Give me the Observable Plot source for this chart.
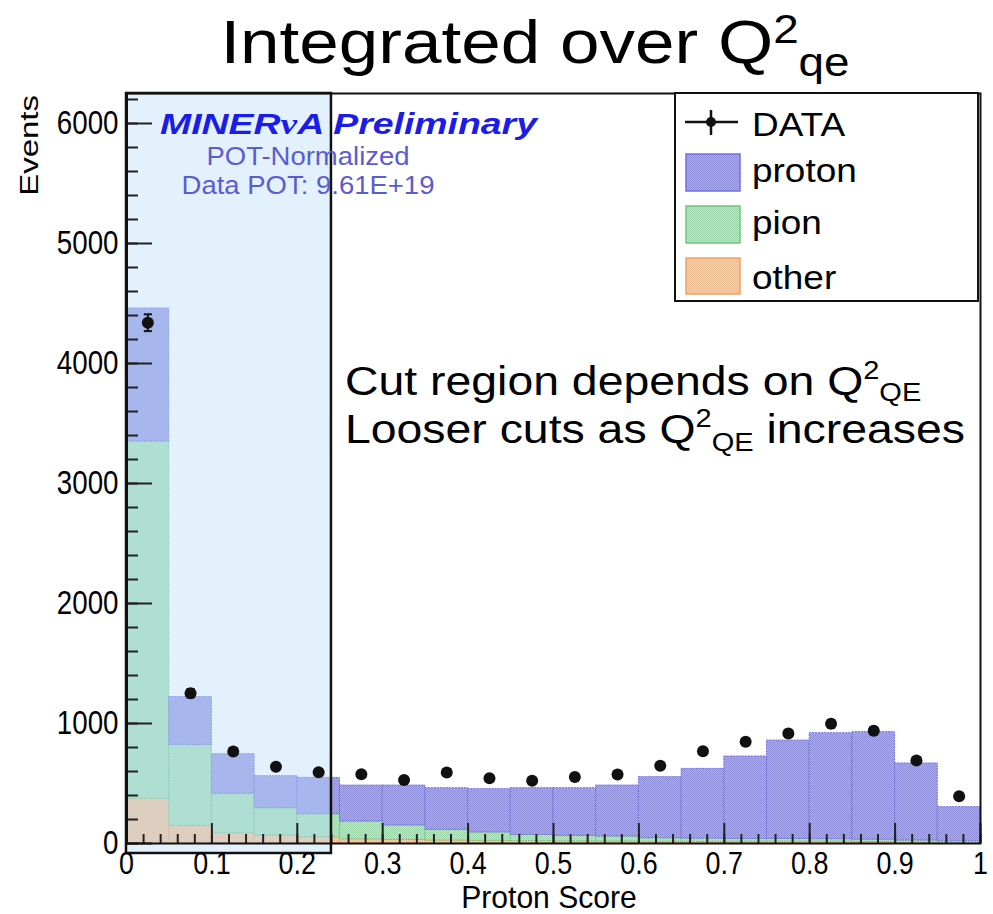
<!DOCTYPE html>
<html>
<head>
<meta charset="utf-8">
<script src="https://cdn.jsdelivr.net/npm/d3@7"></script>
<script src="https://cdn.jsdelivr.net/npm/@observablehq/plot@0.6"></script>
<style>
  html, body { margin: 0; padding: 0; background: #fff; }
  #wrap { position: relative; width: 993px; height: 914px; overflow: hidden; }
  #wrap > svg { position: absolute; left: 0; top: 0; }
  text { font-family: "Liberation Sans", Arial, sans-serif; }
</style>
</head>
<body>
<div id="wrap"></div>
<script>
// ---- data ----
const binLow = [0, 0.05, 0.1, 0.15, 0.2, 0.25, 0.3, 0.35, 0.4, 0.45, 0.5, 0.55, 0.6, 0.65, 0.7, 0.75, 0.8, 0.85, 0.9, 0.95];
const binWidth = 0.05;
const protonEvents = [1108, 398, 330, 267, 303, 300, 333, 347, 361, 389, 397, 425, 509, 582, 687, 820, 883, 896, 642, 285];
const pionEvents   = [2978, 675, 328, 227, 191, 148, 120, 89, 70, 52, 46, 42, 30, 27, 24, 23, 21, 20, 17, 13];
const otherEvents  = [372, 147, 86, 67, 53, 35, 30, 25, 22, 20, 18, 16, 14, 13, 14, 15, 15, 12, 8, 5];
const dataEvents   = [4340, 1252, 767, 639, 594, 578, 530, 592, 544, 522, 555, 575, 647, 769, 847, 917, 997, 939, 692, 394];
const dataErrors   = [70, 35, 28, 25, 24, 24, 23, 24, 23, 23, 24, 24, 25, 28, 29, 30, 32, 31, 26, 20];
const cutRegion = [{x1: 0, x2: 0.24}];
const xTicks = [0, 0.1, 0.2, 0.3, 0.4, 0.5, 0.6, 0.7, 0.8, 0.9, 1];
const yTicks = [0, 1000, 2000, 3000, 4000, 5000, 6000];
const xMinor = d3.range(0, 1.0001, 0.02);
const yMinor = d3.range(0, 6201, 200);
const yMax = 6250;

// ---- build stacked table ----
const layers = [];
binLow.forEach((x, i) => {
  const o = otherEvents[i], p = pionEvents[i], pr = protonEvents[i];
  layers.push({comp: "other", x1: x, x2: x + binWidth, y1: 0, y2: o});
  layers.push({comp: "pion", x1: x, x2: x + binWidth, y1: o, y2: o + p});
  layers.push({comp: "proton", x1: x, x2: x + binWidth, y1: o + p, y2: o + p + pr});
});
const dataRows = binLow.map((x, i) => ({x: x + binWidth / 2, y: dataEvents[i], lo: dataEvents[i] - dataErrors[i], hi: dataEvents[i] + dataErrors[i]}));

const cap = { draw(ctx, size) { const w = Math.sqrt(size); ctx.moveTo(-w, 0); ctx.lineTo(w, 0); } };

const styleOf = {
  proton: {fill: "url(#pProton)", stroke: "#7070e0"},
  pion:   {fill: "url(#pPion)",   stroke: "#70c484"},
  other:  {fill: "url(#pOther)",  stroke: "#eaa464"}
};

const chart = Plot.plot({
  width: 993,
  height: 914,
  marginTop: 93,
  marginBottom: 71,
  marginLeft: 126,
  marginRight: 13,
  x: {domain: [0, 1]},
  y: {domain: [0, yMax]},
  style: {fontFamily: "Liberation Sans, Arial, sans-serif", color: "black", background: "white"},
  marks: [
    ...["other", "pion", "proton"].map(c => Plot.rect(layers.filter(d => d.comp === c), {
      x1: "x1", x2: "x2", y1: "y1", y2: "y2",
      fill: styleOf[c].fill, stroke: styleOf[c].stroke, strokeWidth: 1, strokeDasharray: "2,1"
    })),
    Plot.rect(cutRegion, {x1: "x1", x2: "x2", fill: "#b8dcfa", fillOpacity: 0.4, insetBottom: -10}),
    Plot.ruleX(dataRows, {x: "x", y1: "lo", y2: "hi", stroke: "#111", strokeWidth: 2}),
    Plot.dot(dataRows, {x: "x", y: "hi", symbol: cap, r: 2.3, stroke: "#111", strokeWidth: 2}),
    Plot.dot(dataRows, {x: "x", y: "lo", symbol: cap, r: 2.3, stroke: "#111", strokeWidth: 2}),
    Plot.dot(dataRows, {x: "x", y: "y", r: 6, fill: "#111"}),
    // ticks pointing inward
    Plot.tickY(yTicks, {y: d => d, insetRight: 854 - 26, stroke: "#222", strokeWidth: 2}),
    Plot.tickY(yMinor, {y: d => d, insetRight: 854 - 12, stroke: "#222", strokeWidth: 2}),
    Plot.tickX(xTicks, {x: d => d, insetTop: 750 - 20, stroke: "#222", strokeWidth: 2}),
    Plot.tickX(xMinor, {x: d => d, insetTop: 750 - 9, stroke: "#222", strokeWidth: 2}),
    Plot.rect(cutRegion, {x1: "x1", x2: "x2", fill: "none", stroke: "#111", strokeWidth: 2.5, insetBottom: -10}),
    Plot.frame({stroke: "#111", strokeWidth: 2}),
    Plot.ruleX([0], {stroke: "#111", strokeWidth: 3}),
    Plot.axisX(xTicks, {tickSize: 0, tickPadding: 8, fontSize: 32, tickFormat: d => String(d), label: null}),
    Plot.axisY(yTicks, {tickSize: 0, tickPadding: 8, fontSize: 33, tickFormat: d => String(d), label: null})
  ]
});

// condense the tick labels horizontally like the reference
chart.querySelectorAll('g[aria-label="x-axis tick label"] text, g[aria-label="y-axis tick label"] text').forEach(t => {
  const tr = t.getAttribute("transform") || "";
  t.setAttribute("transform", tr + " scale(0.84,1)");
});

// patterns
const ns = "http://www.w3.org/2000/svg";
const defs = document.createElementNS(ns, "defs");
defs.innerHTML = `
<pattern id="pProton" width="2" height="2" patternUnits="userSpaceOnUse">
  <rect width="2" height="2" fill="#ababec"/><rect width="1" height="1" fill="#8e8ed8"/><rect x="1" y="1" width="1" height="1" fill="#9292da"/>
</pattern>
<pattern id="pPion" width="2" height="2" patternUnits="userSpaceOnUse">
  <rect width="2" height="2" fill="#bae6c4"/><rect width="1" height="1" fill="#9cd4aa"/><rect x="1" y="1" width="1" height="1" fill="#a2d8b0"/>
</pattern>
<pattern id="pOther" width="2" height="2" patternUnits="userSpaceOnUse">
  <rect width="2" height="2" fill="#f6d2b0"/><rect width="1" height="1" fill="#e9b88c"/><rect x="1" y="1" width="1" height="1" fill="#eebe94"/>
</pattern>`;
chart.insertBefore(defs, chart.firstChild);

const wrap = document.getElementById("wrap");
wrap.appendChild(chart);

// overlay texts & legend
const sx = (x, s) => `translate(${x},0) scale(${s},1) translate(${-x},0)`;
const ov = document.createElementNS(ns, "svg");
ov.setAttribute("width", 993);
ov.setAttribute("height", 914);
ov.innerHTML = `
<text x="535" y="63" font-size="62" text-anchor="middle" transform="${sx(535, 1.146)}">Integrated over Q<tspan font-size="40" dy="-20">2</tspan><tspan font-size="40" dy="33">qe</tspan></text>
<text x="0" y="0" font-size="33" text-anchor="end" transform="translate(38,95) rotate(-90) scale(1,0.8)">Events</text>
<text x="549" y="908" font-size="32" text-anchor="middle" transform="${sx(549, 0.94)}">Proton Score</text>
<text x="160" y="134" font-size="29" font-family="Liberation Mono, Courier New, monospace" font-weight="bold" font-style="italic" fill="#1c1ce8" textLength="377" lengthAdjust="spacingAndGlyphs">MINER<tspan font-family="Liberation Serif, serif">ν</tspan>A Preliminary</text>
<text x="308" y="165" font-size="25" text-anchor="middle" fill="#5c5cd2" transform="${sx(308, 1.1)}">POT-Normalized</text>
<text x="308" y="194" font-size="25" text-anchor="middle" fill="#5c5cd2" transform="${sx(308, 1.1)}">Data POT: 9.61E+19</text>
<g transform="${sx(345, 1.16)}">
<text x="345" y="395" font-size="40">Cut region depends on Q<tspan font-size="25" dy="-16">2</tspan><tspan font-size="25" dy="22">QE</tspan></text>
<text x="345" y="443" font-size="40">Looser cuts as Q<tspan font-size="25" dy="-16">2</tspan><tspan font-size="25" dy="24">QE</tspan><tspan dy="-8"> increases</tspan></text>
</g>
<g>
  <rect x="675" y="93" width="303" height="208" fill="white" stroke="#111" stroke-width="2"/>
  <line x1="685" y1="122" x2="738" y2="122" stroke="#111" stroke-width="2.5"/>
  <line x1="711" y1="110" x2="711" y2="135" stroke="#111" stroke-width="2.5"/>
  <circle cx="711" cy="122" r="5" fill="#111"/>
  <rect x="686" y="154" width="54" height="37" fill="url(#pProton)" stroke="#7070e0" stroke-width="1.5"/>
  <rect x="686" y="206" width="54" height="37" fill="url(#pPion)" stroke="#70c484" stroke-width="1.5"/>
  <rect x="686" y="258" width="54" height="36" fill="url(#pOther)" stroke="#eaa464" stroke-width="1.5"/>
  <g transform="${sx(752, 1.12)}">
    <text x="752" y="136" font-size="33">DATA</text>
    <text x="752" y="182" font-size="33">proton</text>
    <text x="752" y="234" font-size="33">pion</text>
    <text x="752" y="289" font-size="33">other</text>
  </g>
</g>`;
wrap.appendChild(ov);
</script>
</body>
</html>
